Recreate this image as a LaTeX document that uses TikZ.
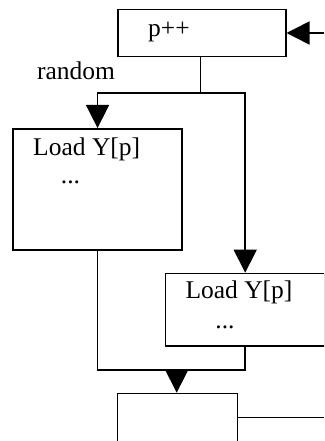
\documentclass[tikz,border=0pt]{standalone}
\usepackage{fontspec}
\setmainfont{Liberation Serif}
\usetikzlibrary{arrows.meta}
\tikzset{arr/.style={-{Triangle[length=23pt,width=23pt]}},
         blk/.style={draw, line width=1.5pt, inner sep=0pt, anchor=north west},
         txt/.style={anchor=base, inner sep=0pt}}
\begin{document}
\begin{tikzpicture}[x=1pt, y=-1pt, line width=1.5pt, font=\fontsize{25.5}{30}\selectfont]
\clip (0,0) rectangle (324,441);
\useasboundingbox (0,0) rectangle (324,441);

% boxes
\node[blk, minimum width=168pt, minimum height=47pt] (pp) at (117,9) {};
\node[blk, minimum width=169pt, minimum height=121pt] (lbox) at (12.3,128) {};
\node[blk, minimum width=159.5pt, minimum height=72.5pt] (rbox) at (164.7,272.7) {};
\node[blk, minimum width=120pt, minimum height=60pt] (bot) at (116.7,392.7) {};

% texts
\node[txt] (pptxt) at (169,37) {p++};
\node[txt] (rnd) at (76,80) {random};
\node[txt] (lload) at (86.7,155) {Load Y[p]};
\node[txt] (ldots) at (70.5,183) {...};
\node[txt] (rload) at (239,298.3) {Load Y[p]};
\node[txt] (rdots) at (225,328) {...};

% connectors
\coordinate (in) at (324,33);
\coordinate (fork) at (200.7,93);
\coordinate (join) at (176.7,370);
\coordinate (out) at (324,417.3);
\draw[arr] (in) -- (in -| pp.east);
\draw (pp.south -| fork) -- (fork);
\draw[arr] (fork) -| (lbox.north);
\draw[arr] (fork) -| (rbox.north);
\draw (lbox.south) |- (join) -| (rbox.south);
\draw[arr] (join) -- (bot.north -| join);
\draw (out -| bot.east) -- (out);
\end{tikzpicture}
\end{document}
